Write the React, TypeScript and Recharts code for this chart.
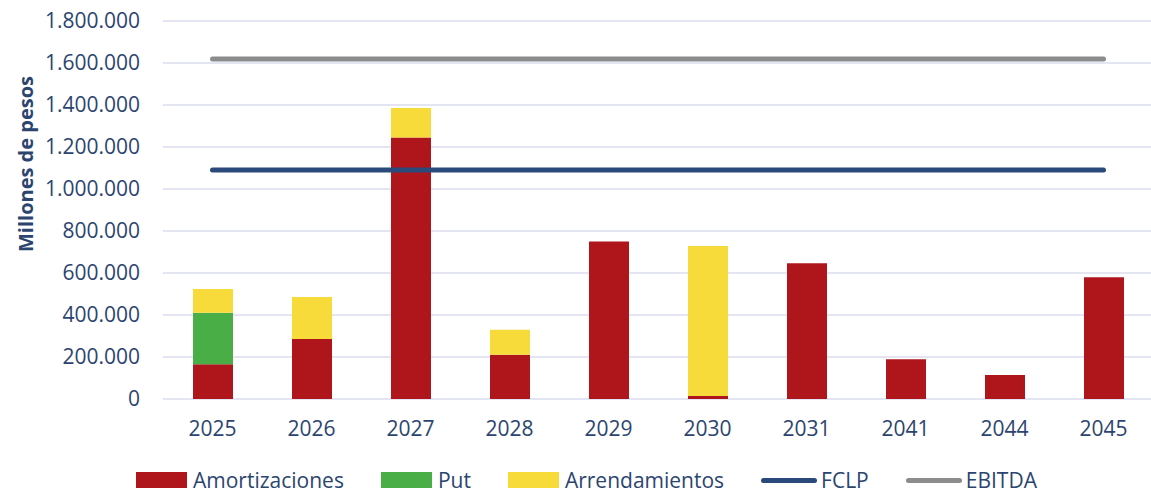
import React from 'react';
import { ComposedChart, Bar, Line, XAxis, YAxis, CartesianGrid, Legend } from 'recharts';

const categories = ['2025', '2026', '2027', '2028', '2029', '2030', '2031', '2041', '2044', '2045'];
const amortizaciones = [165000, 286000, 1245000, 211000, 750000, 14000, 647000, 189000, 114000, 580000];
const put = [246000, 0, 0, 0, 0, 0, 0, 0, 0, 0];
const arrendamientos = [113000, 200000, 141000, 119000, 0, 714000, 0, 0, 0, 0];
const fclpValue = 1090000;
const ebitdaValue = 1619000;
const yTicks = [0, 200000, 400000, 600000, 800000, 1000000, 1200000, 1400000, 1600000, 1800000];

const data = categories.map((c, i) => ({
  year: c,
  amort: amortizaciones[i],
  put: put[i],
  arr: arrendamientos[i],
  fclp: fclpValue,
  ebitda: ebitdaValue,
}));

const TEXT = '#2B4570';
const FONT = '"Open Sans", sans-serif';
const C_AMORT = '#AE161B';
const C_PUT = '#4AAE47';
const C_ARR = '#F7DB3B';
const C_FCLP = '#2A4A7C';
const C_EBITDA = '#8C8C8C';

const fmt = (v: number) => String(v).replace(/\B(?=(\d{3})+(?!\d))/g, '.');

const legendItems = [
  { label: 'Amortizaciones', color: C_AMORT, type: 'rect' },
  { label: 'Put', color: C_PUT, type: 'rect' },
  { label: 'Arrendamientos', color: C_ARR, type: 'rect' },
  { label: 'FCLP', color: C_FCLP, type: 'line' },
  { label: 'EBITDA', color: C_EBITDA, type: 'line' },
];

const renderLegend = () => (
  <div style={{ display: 'flex', alignItems: 'center', paddingLeft: 136, fontFamily: FONT, fontSize: 21, color: TEXT }}>
    {legendItems.map((it) => (
      <div key={it.label} style={{ display: 'flex', alignItems: 'center', marginRight: 37 }}>
        {it.type === 'rect' ? (
          <div style={{ width: 51, height: 16, background: it.color, marginRight: 6 }} />
        ) : (
          <div style={{ width: 56, height: 5, borderRadius: 3, background: it.color, marginRight: 4 }} />
        )}
        <span>{it.label}</span>
      </div>
    ))}
  </div>
);

const YLabel = () => (
  <text
    x={25}
    y={164}
    transform="rotate(-90 25 164)"
    textAnchor="middle"
    dominantBaseline="central"
    fill={TEXT}
    fontFamily={FONT}
    fontWeight={700}
    fontSize={20}
  >
    Millones de pesos
  </text>
);

export default function App() {
  return (
    <div style={{ position: 'absolute', left: 0, top: 0, width: 1151, height: 495, overflow: 'hidden', background: '#fff' }}>
      <ComposedChart
        width={1153}
        height={495}
        data={data}
        margin={{ top: 21, right: 0, bottom: 28, left: 0 }}
      >
        <CartesianGrid vertical={false} stroke="#DADDEE" strokeWidth={1.5} />
        <XAxis
          dataKey="year"
          axisLine={false}
          tickLine={false}
          tickSize={0}
          tickMargin={22}
          height={40}
          tick={{ fill: TEXT, fontFamily: FONT, fontSize: 21 }}
        />
        <YAxis
          width={163}
          domain={[0, 1800000]}
          ticks={yTicks}
          tickFormatter={fmt}
          axisLine={false}
          tickLine={false}
          tickSize={0}
          tickMargin={23}
          interval={0}
          tick={{ fill: TEXT, fontFamily: FONT, fontSize: 21 }}
          label={{ content: () => <YLabel /> }}
        />
        <Legend verticalAlign="bottom" content={renderLegend} wrapperStyle={{ top: 466, left: 0, width: 1151 }} />
        <Bar dataKey="amort" name="Amortizaciones" stackId="a" fill={C_AMORT} barSize={40} isAnimationActive={false} />
        <Bar dataKey="put" name="Put" stackId="a" fill={C_PUT} barSize={40} isAnimationActive={false} />
        <Bar dataKey="arr" name="Arrendamientos" stackId="a" fill={C_ARR} barSize={40} isAnimationActive={false} />
        <Line dataKey="fclp" name="FCLP" stroke={C_FCLP} strokeWidth={5} strokeLinecap="round" dot={false} activeDot={false} isAnimationActive={false} />
        <Line dataKey="ebitda" name="EBITDA" stroke={C_EBITDA} strokeWidth={5} strokeLinecap="round" dot={false} activeDot={false} isAnimationActive={false} />
      </ComposedChart>
    </div>
  );
}
